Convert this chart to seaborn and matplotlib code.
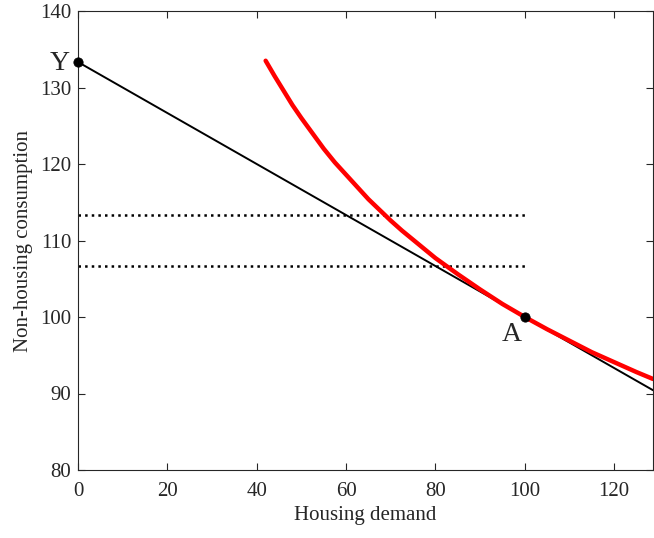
import matplotlib
matplotlib.use("Agg")
import matplotlib.pyplot as plt
import seaborn as sns

sns.set_style("ticks", {"xtick.direction": "in", "ytick.direction": "in",
                        "axes.edgecolor": "#262626"})
plt.rcParams['font.family'] = ['Liberation Serif', 'DejaVu Serif']

# indifference curve
house = [42, 44, 46, 48, 50, 52.5, 55, 57.5, 60, 62.5, 65, 67.5, 70, 72.5,
         75, 77.5, 80, 85, 90, 95, 100, 105, 110, 115, 120, 125, 128.7]
cons = [133.5, 131.5, 129.6, 127.7, 126.0, 124.0, 122.0, 120.2, 118.6, 117.0,
        115.4, 114.0, 112.6, 111.3, 110.1, 108.9, 107.7, 105.6, 103.6, 101.7,
        100.0, 98.4, 96.9, 95.4, 94.1, 92.8, 91.9]

# budget line
budget_x = [0, 128.7]
budget_y = [133.33, 90.43]

# dotted reference levels
levels = [113.33, 106.67]
level_x = [0, 100]

# labelled points
pts_x = [0, 100]
pts_y = [133.33, 100]
pts_lab = ['Y', 'A']

fig = plt.figure(figsize=(6.54, 5.38), dpi=100)
ax = fig.add_axes([78 / 654, 68 / 538, 575 / 654, 459 / 538])

sns.lineplot(x=budget_x, y=budget_y, color='black', linewidth=1.4, ax=ax)
for lv in levels:
    sns.lineplot(x=level_x, y=[lv, lv], color='black', linewidth=1.8,
                 linestyle=':', ax=ax)
sns.lineplot(x=house, y=cons, color='red', linewidth=3.2, sort=False, ax=ax,
             solid_joinstyle='round')
sns.scatterplot(x=pts_x, y=pts_y, color='black', s=45, zorder=5, ax=ax,
                edgecolor='black', clip_on=False)

ax.text(pts_x[0] - 1.8, pts_y[0] - 0.2, pts_lab[0], fontsize=20,
        ha='right', va='center')
ax.text(pts_x[1] - 3.0, pts_y[1] - 2.3, pts_lab[1], fontsize=20,
        ha='center', va='center')

ax.set_xlim(0, 128.7)
ax.set_ylim(80, 140)
ax.set_xticks([0, 20, 40, 60, 80, 100, 120])
ax.set_yticks([80, 90, 100, 110, 120, 130, 140])
ax.tick_params(top=True, right=True, labelsize=15, colors='#262626',
               length=5, width=0.8)
ax.tick_params(axis='x', pad=9)
ax.tick_params(axis='y', pad=5)
for s in ax.spines.values():
    s.set_visible(True)
    s.set_linewidth(0.8)
ax.set_xlabel('Housing demand', fontsize=15, color='#262626', labelpad=3)
ax.set_ylabel('Non-housing consumption', fontsize=15, color='#262626',
              labelpad=5)

fig.savefig('out.png', dpi=100)
